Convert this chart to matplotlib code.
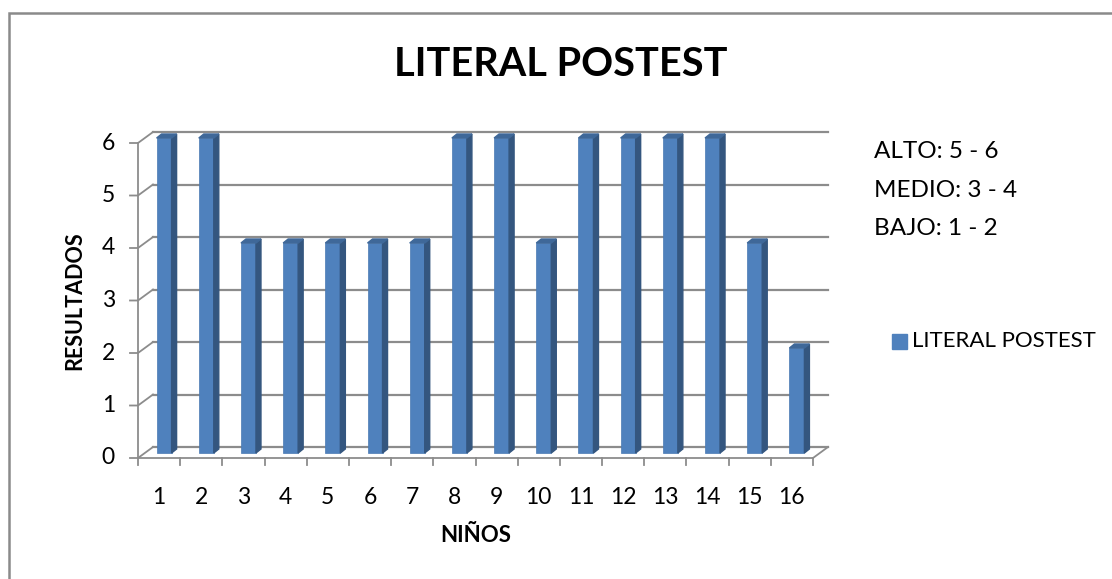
import matplotlib.pyplot as plt
from matplotlib.patches import Polygon, Rectangle
import numpy as np

plt.rcParams['font.family'] = ['Lato', 'DejaVu Sans']

# data
ninos = list(range(1, 17))
resultados = [6, 6, 4, 4, 4, 4, 4, 6, 6, 4, 6, 6, 6, 6, 4, 2]
niveles = ["ALTO: 5 - 6", "MEDIO: 3 - 4", "BAJO: 1 - 2"]
serie = "LITERAL POSTEST"

W, H = 1112, 579
fig = plt.figure(figsize=(W / 100, H / 100), dpi=100)

def px(x, y):
    return x / W, 1 - y / H

# outer chart border (only top/left visible)
fig.patches.append(Rectangle(px(9, 600), 1.2, (600 - 13) / H, transform=fig.transFigure,
                             fill=False, edgecolor='#8a8a8a', lw=1.8))

# axes placed so 0..16 / 0..6 lands on the front frame
x0, x1, y0, y1 = 138, 813, 458, 143
ax = fig.add_axes([x0 / W, 1 - y0 / H, (x1 - x0) / W, (y0 - y1) / H])
ax.set_xlim(0, len(ninos))
ax.set_ylim(0, 6)
ax.axis('off')

ux = (x1 - x0) / len(ninos)   # px per category
uy = (y0 - y1) / 6            # px per unit
dx, dy = 15 / ux, 11 / uy     # back wall offset
bx, by = 5 / ux, 5 / uy       # bar offset
sx, sy = 5 / ux, 4 / uy       # bar depth
grid_c = '#8c8c8c'

# back wall gridlines + left wall diagonals
for v in range(0, 7):
    ax.plot([dx, len(ninos) + dx], [v + dy, v + dy], color=grid_c, lw=1.6, clip_on=False, zorder=1)
    ax.plot([-8 / ux, 0, dx], [v, v, v + dy], color=grid_c, lw=1.3, clip_on=False, zorder=1)
    ax.text(-23 / ux, v, str(v), ha='right', va='center', fontsize=16.5, clip_on=False)
ax.plot([0, 0], [0, 6], color=grid_c, lw=1.3, clip_on=False, zorder=1)

# floor front edge, ticks and right diagonal
ax.plot([0, len(ninos)], [0, 0], color=grid_c, lw=1.3, clip_on=False, zorder=1)
ax.plot([len(ninos), len(ninos) + dx], [0, dy], color=grid_c, lw=1.3, clip_on=False, zorder=1)
for i in range(len(ninos) + 1):
    ax.plot([i, i], [0, -7 / uy], color=grid_c, lw=1.3, clip_on=False, zorder=1)

# bars
xs = np.arange(len(ninos)) + 0.5
bw = 15 / ux
front = ax.bar(xs + bx, resultados, width=bw, bottom=by, color='#4f81bd', zorder=3,
               edgecolor='#4a7ab3', lw=0.5, clip_on=False)
for x, v in zip(xs + bx, resultados):
    l, r, t = x - bw / 2, x + bw / 2, v + by
    ax.add_patch(Polygon([(r, by), (r + sx, by + sy), (r + sx, t + sy), (r, t)],
                         closed=True, color='#34567f', zorder=3, clip_on=False))
    ax.add_patch(Polygon([(l, t), (r, t), (r + sx, t + sy), (l + sx, t + sy)],
                         closed=True, color='#3f6899', zorder=3, clip_on=False))

for x, n in zip(xs, ninos):
    ax.text(x, -40 / uy, str(n), ha='center', va='center', fontsize=16.5, clip_on=False)

# titles
fig.text(*px(561, 64), "LITERAL POSTEST", ha='center', va='center', fontsize=28.5, fontweight='bold')
fig.text(*px(75, 301), "RESULTADOS", ha='center', va='center', rotation=90, fontsize=15.5, fontweight='bold')
fig.text(*px(476, 536), "NIÑOS", ha='center', va='center', fontsize=16, fontweight='bold')

# level notes
for i, t in enumerate(niveles):
    fig.text(*px(874, 152 + i * 38.5), t, ha='left', va='center', fontsize=17.5)

# legend entry
fig.patches.append(Rectangle(px(892, 349), 15 / W, 15 / H, transform=fig.transFigure,
                             color='#4f81bd'))
fig.text(*px(912, 341), serie, ha='left', va='center', fontsize=16)

fig.savefig('out.png', dpi=100)
